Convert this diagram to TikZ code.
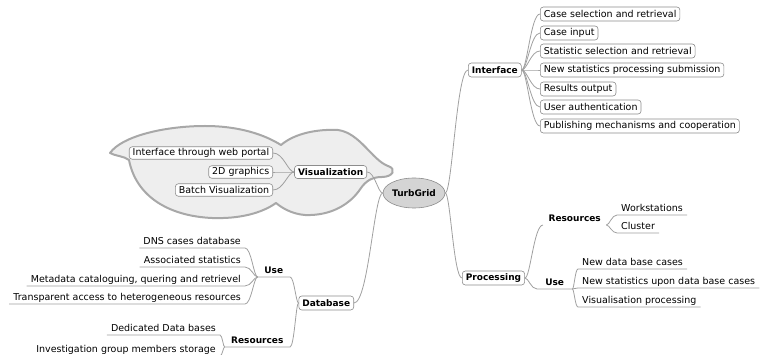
\documentclass[tikz,border=0pt]{standalone}
\usepackage{fontspec}
\setmainfont{DejaVu Sans}
\usetikzlibrary{shapes.geometric,calc}
\definecolor{linkgray}{HTML}{A0A0A0}
\definecolor{boxgray}{HTML}{8C8C8C}
\definecolor{cloudfill}{HTML}{EEEEEE}
\definecolor{cloudline}{HTML}{A8A8A8}
\definecolor{rootfill}{HTML}{D4D4D4}
\newcommand\regfont{\fontsize{9.5}{11}\selectfont}
\newcommand\bldfont{\fontsize{9}{11}\selectfont\bfseries}
\begin{document}
\begin{tikzpicture}[x=1pt,y=-1pt,
  % curved mind-map edge with horizontal tangents at both ends
  link/.style={draw=linkgray, line width=0.8pt,
    to path={let \p1=(\tikztostart), \p2=(\tikztotarget) in
      .. controls ($(\tikztostart)+({0.3*(\x2-\x1)},0)$) and ($(\tikztotarget)-({0.5*(\x2-\x1)},0)$) .. (\tikztotarget)}},
  boxnode/.style={draw=boxgray, fill=white, rounded corners=3pt, line width=0.6pt,
    inner xsep=3.5pt, inner ysep=0pt, minimum height=14pt, font=\regfont, text=black},
  boldbox/.style={boxnode, font=\bldfont},
  cloudbox/.style={boxnode, minimum height=12.5pt},
  forknode/.style={inner xsep=4pt, inner ysep=1.5pt, text height=7pt, text depth=1.5pt, font=\regfont},
  boldfork/.style={forknode, font=\bldfont},
  root/.style={ellipse, draw=boxgray, fill=rootfill, line width=0.6pt,
    minimum width=60pt, minimum height=30pt, inner sep=0pt, font=\bldfont},
  cloudshape/.style={draw=cloudline, fill=cloudfill, line width=2pt, line join=round}
]
\useasboundingbox (0,0) rectangle (764,355);

% cloud around the visualization branch
\path[cloudshape] (110,153)
  .. controls (122,136) and (165,126) .. (205,126)
  .. controls (240,126) and (265,135) .. (281,145)
  .. controls (295,133) and (318,129) .. (338,130)
  .. controls (360,133) and (372,160) .. (388,166)
  .. controls (397,169) and (393,177) .. (382,177)
  .. controls (372,177) and (366,181) .. (361,188)
  .. controls (350,205) and (330,216) .. (305,215)
  .. controls (292,214) and (282,208) .. (276,203)
  .. controls (262,213) and (240,219) .. (212,218)
  .. controls (168,216) and (136,196) .. (129,160)
  .. controls (124,156) and (115,156) .. (110,153) -- cycle;

% root
\node[root] (tg) at (414,193) {TurbGrid};

% Interface branch
\node[boldbox, anchor=west] (iface) at (468,70) {Interface};
\node[boxnode, anchor=west] (i1) at (540,14) {Case selection and retrieval};
\node[boxnode, anchor=west] (i2) at (540,33) {Case input};
\node[boxnode, anchor=west] (i3) at (540,51) {Statistic selection and retrieval};
\node[boxnode, anchor=west] (i4) at (540,70) {New statistics processing submission};
\node[boxnode, anchor=west] (i5) at (540,89) {Results output};
\node[boxnode, anchor=west] (i6) at (540,107) {User authentication};
\node[boxnode, anchor=west] (i7) at (540,126) {Publishing mechanisms and cooperation};

% Processing branch
\node[boldbox, anchor=west] (proc) at (462,278) {Processing};
\node[boldfork, anchor=south west, minimum width=63pt] (pres) at (543,225) {Resources};
\node[forknode, anchor=south west] (ws) at (617,215) {Workstations};
\node[forknode, anchor=south west] (cl) at (617,233) {Cluster};
\node[boldfork, anchor=south west, minimum width=35pt] (puse) at (537,289) {Use};
\node[forknode, anchor=south west] (pu1) at (578,269) {New data base cases};
\node[forknode, anchor=south west] (pu2) at (578,288) {New statistics upon data base cases};
\node[forknode, anchor=south west] (pu3) at (578,307) {Visualisation processing};

% Database branch
\node[boldbox, anchor=east] (db) at (354,303) {Database};
\node[boldfork, anchor=south east, minimum width=32pt] (duse) at (290,277) {Use};
\node[forknode, anchor=south east] (du1) at (245,248) {DNS cases database};
\node[forknode, anchor=south east] (du2) at (245,267) {Associated statistics};
\node[forknode, anchor=south east] (du3) at (245,286) {Metadata cataloguing, quering and retrievel};
\node[forknode, anchor=south east] (du4) at (245,304) {Transparent access to heterogeneous resources};
\node[boldfork, anchor=south east, minimum width=65pt] (dres) at (290,347) {Resources};
\node[forknode, anchor=south east] (dr1) at (220,335) {Dedicated Data bases};
\node[forknode, anchor=south east] (dr2) at (220,356) {Investigation group members storage};

% Visualization branch
\node[boldbox, anchor=east, minimum height=13pt] (vis) at (367,172) {Visualization};
\node[cloudbox, anchor=east] (v1) at (273,153) {Interface through web portal};
\node[cloudbox, anchor=east] (v2) at (273,172) {2D graphics};
\node[cloudbox, anchor=east] (v3) at (273,190) {Batch Visualization};

% edges: Interface
\draw[link] (tg.east) to (iface.west);
\draw[link] (iface.east) to (i1.west);
\draw[link] (iface.east) to (i2.west);
\draw[link] (iface.east) to (i3.west);
\draw[link] (iface.east) to (i4.west);
\draw[link] (iface.east) to (i5.west);
\draw[link] (iface.east) to (i6.west);
\draw[link] (iface.east) to (i7.west);

% edges: Processing
\draw[link] (tg.east) to (proc.west);
\draw[link] (proc.east) to (pres.south west);
\draw[link] (pres.south east) to (ws.south west) -- (ws.south east);
\draw[link] (pres.south east) to (cl.south west) -- (cl.south east);
\draw[link] (proc.east) to (puse.south west) -- (puse.south east);
\draw[link] (puse.south east) to (pu1.south west) -- (pu1.south east);
\draw[link] (puse.south east) to (pu2.south west) -- (pu2.south east);
\draw[link] (puse.south east) to (pu3.south west) -- (pu3.south east);

% edges: Database
\draw[link] (tg.west) to (db.east);
\draw[link] (db.west) to (duse.south east) -- (duse.south west);
\draw[link] (duse.south west) to (du1.south east) -- (du1.south west);
\draw[link] (duse.south west) to (du2.south east) -- (du2.south west);
\draw[link] (duse.south west) to (du3.south east) -- (du3.south west);
\draw[link] (duse.south west) to (du4.south east) -- (du4.south west);
\draw[link] (db.west) to (dres.south east) -- (dres.south west);
\draw[link] (dres.south west) to (dr1.south east) -- (dr1.south west);
\draw[link] (dres.south west) to (dr2.south east) -- (dr2.south west);

% edges: Visualization
\draw[link] (tg.west) to (vis.east);
\draw[link] (vis.west) to (v1.east);
\draw[link] (vis.west) to (v2.east);
\draw[link] (vis.west) to (v3.east);
\end{tikzpicture}
\end{document}
